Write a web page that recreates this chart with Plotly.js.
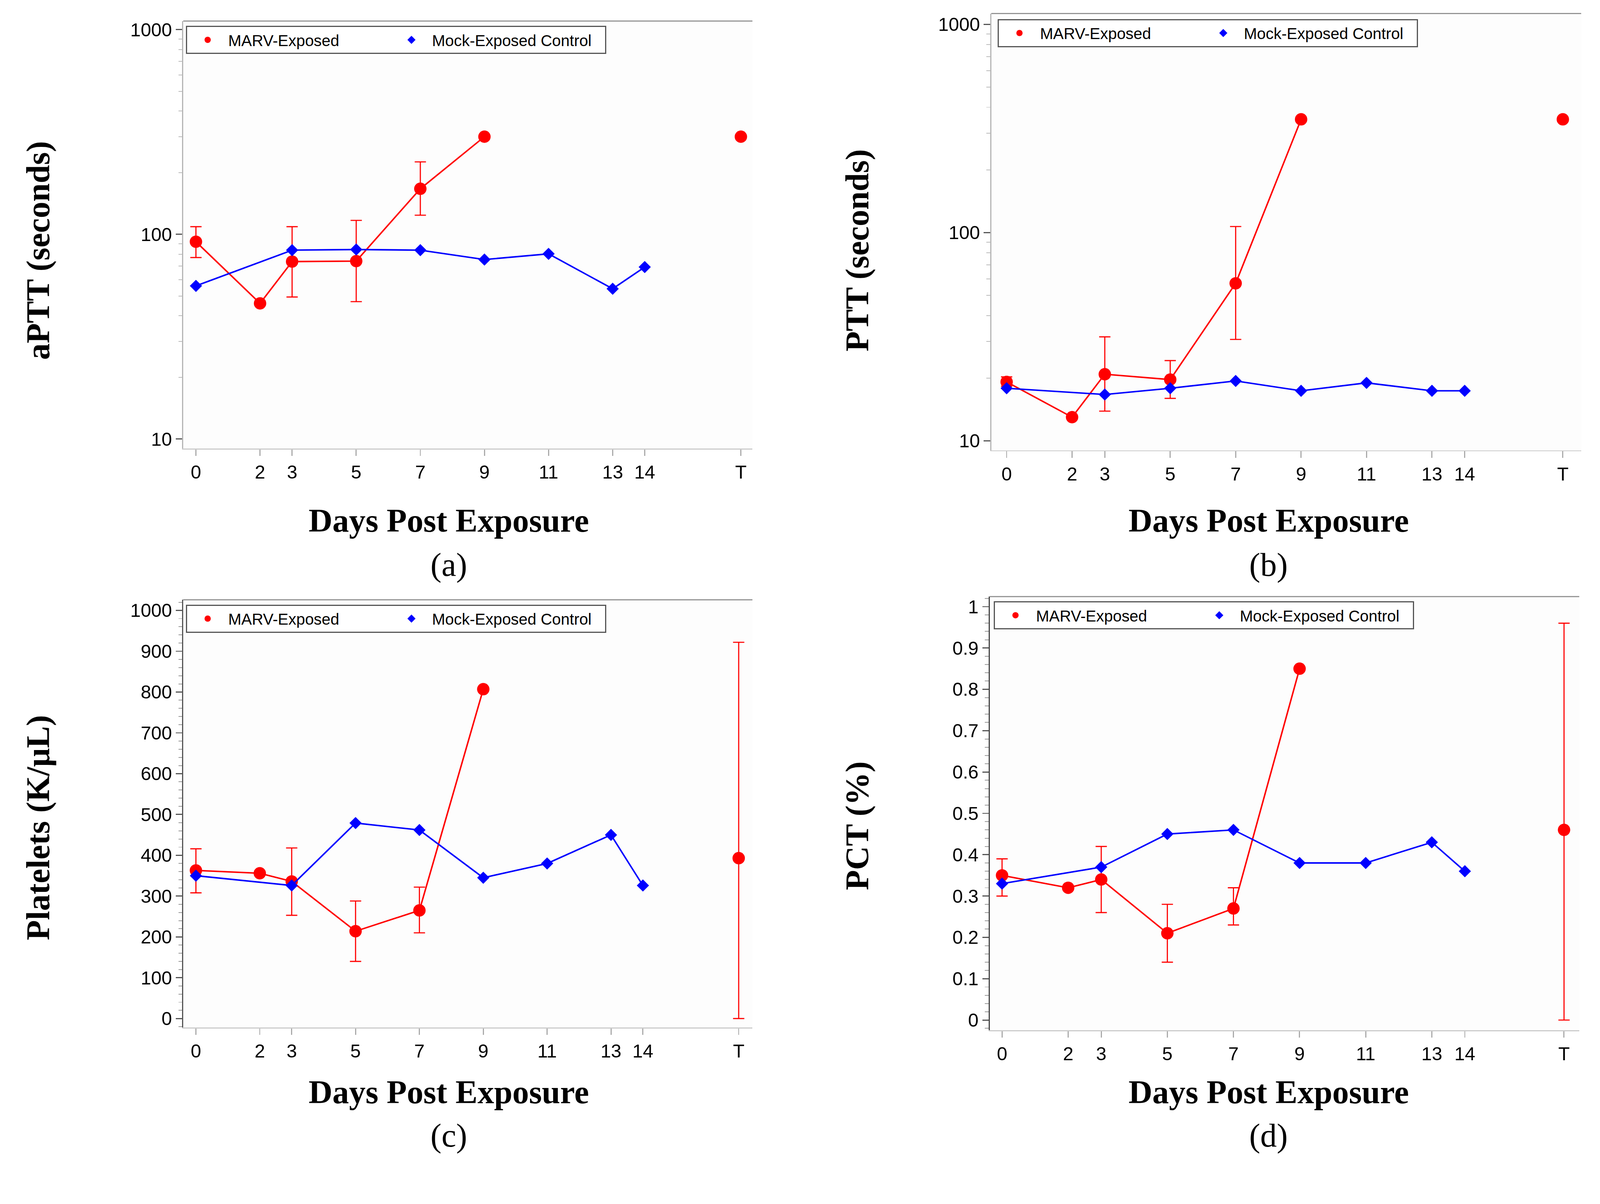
<!DOCTYPE html>
<html><head><meta charset="utf-8">
<script src="https://cdn.plot.ly/plotly-3.0.1.min.js"></script>
<style>html,body{margin:0;padding:0;background:#fff;overflow:hidden}</style>
</head><body><div id="chart"></div>
<script>
// ---- x axis categories ----
const tickLabels = ['0','2','3','5','7','9','11','13','14','T'];
const tickPositions = [0,2,3,5,7,9,11,13,14,17];
const marvDays = [0,2,3,5,7,9];
const mockDays = [0,3,5,7,9,11,13,14];
const terminalPos = 17;
const seriesNames = ['MARV-Exposed','Mock-Exposed Control'];

// ---- (a) aPTT (seconds) ----
const apttMarv = [92, 46, 73.6, 74, 167, 300];
const apttMarvUpper = [109, null, 109, 117, 226, null];
const apttMarvLower = [77, null, 49.4, 46.9, 124, null];
const apttMarvT = 300, apttMarvTUpper = null, apttMarvTLower = null;
const apttMock = [56, 83.7, 84.3, 83.7, 75.3, 80.3, 54.2, 69.2];

// ---- (b) PTT (seconds) ----
const pttMarv = [19.2, 13.0, 20.9, 19.7, 57.1, 350];
const pttMarvUpper = [20.3, null, 31.6, 24.3, 107, null];
const pttMarvLower = [18.3, null, 13.9, 16.0, 30.7, null];
const pttMarvT = 350, pttMarvTUpper = null, pttMarvTLower = null;
const pttMock = [17.9, 16.7, 17.9, 19.4, 17.4, 19.0, 17.4, 17.4];

// ---- (c) Platelets (K/uL) ----
const pltMarv = [363, 356, 336, 214, 265, 807];
const pltMarvUpper = [416, null, 418, 288, 322, null];
const pltMarvLower = [308, null, 253, 140, 210, null];
const pltMarvT = 393, pltMarvTUpper = 922, pltMarvTLower = 0;
const pltMock = [350, 326, 479, 462, 345, 380, 450, 326];

// ---- (d) PCT (%) ----
const pctMarv = [0.35, 0.32, 0.34, 0.21, 0.27, 0.85];
const pctMarvUpper = [0.39, null, 0.42, 0.28, 0.32, null];
const pctMarvLower = [0.30, null, 0.26, 0.14, 0.23, null];
const pctMarvT = 0.46, pctMarvTUpper = 0.96, pctMarvTLower = 0;
const pctMock = [0.33, 0.37, 0.45, 0.46, 0.38, 0.38, 0.43, 0.36];

const RED = '#ff0000', BLUE = '#0000ff';
const S = 1 / 1.04;              // global size factor
const px = v => v * S;

function errs(vals, up, lo) {
  return {
    plus: vals.map((v,i) => up[i] == null ? NaN : up[i] - v),
    minus: vals.map((v,i) => lo[i] == null ? NaN : v - lo[i])
  };
}

function panelTraces(sfx, legendId, marv, up, lo, tVal, tUp, tLo, mock) {
  const allX = marvDays.concat([terminalPos]);
  const allY = marv.concat([tVal]);
  const e = errs(allY, up.concat([tUp]), lo.concat([tLo]));
  const xa = 'x' + sfx, ya = 'y' + sfx;
  return [
    {x: marvDays, y: marv, xaxis: xa, yaxis: ya, mode: 'lines', line: {color: RED, width: px(4)},
     showlegend: false, hoverinfo: 'skip', legend: legendId},
    {x: allX, y: allY, xaxis: xa, yaxis: ya, mode: 'markers', name: seriesNames[0], legend: legendId,
     legendwidth: px(428),
     marker: {color: RED, size: px(33), symbol: 'circle'},
     error_y: {type: 'data', symmetric: false, array: e.plus, arrayminus: e.minus,
               color: RED, thickness: px(3), width: px(15)}},
    {x: mockDays, y: mock, xaxis: xa, yaxis: ya, mode: 'lines', line: {color: BLUE, width: px(4)},
     showlegend: false, hoverinfo: 'skip', legend: legendId},
    {x: mockDays, y: mock, xaxis: xa, yaxis: ya, mode: 'markers', name: seriesNames[1], legend: legendId,
     legendwidth: px(455),
     marker: {color: BLUE, size: px(25), symbol: 'diamond'}}
  ];
}

const data = [].concat(
  panelTraces('', 'legend', apttMarv, apttMarvUpper, apttMarvLower, apttMarvT, apttMarvTUpper, apttMarvTLower, apttMock),
  panelTraces('2', 'legend2', pttMarv, pttMarvUpper, pttMarvLower, pttMarvT, pttMarvTUpper, pttMarvTLower, pttMock),
  panelTraces('3', 'legend3', pltMarv, pltMarvUpper, pltMarvLower, pltMarvT, pltMarvTUpper, pltMarvTLower, pltMock),
  panelTraces('4', 'legend4', pctMarv, pctMarvUpper, pctMarvLower, pctMarvT, pctMarvTUpper, pctMarvTLower, pctMock)
);

const tickFont = {family: 'Liberation Sans, Arial, sans-serif', size: px(50), color: '#000'};
function xAxis(domain, range, anchor) {
  return {domain, range, anchor, tickmode: 'array', tickvals: tickPositions, ticktext: tickLabels,
    ticks: 'outside', ticklen: px(17), tickwidth: px(3), tickcolor: '#aaaaaa',
    showline: true, linecolor: '#cccccc', linewidth: px(3), showgrid: false, zeroline: false,
    tickfont: tickFont, fixedrange: true};
}
const logMinor = [];
for (let d = 10; d < 1000; d *= 10) for (let k = 2; k <= 9; k++) logMinor.push(k * d);
function yLog(domain, range, anchor, lineColor) {
  return {domain, range, anchor, type: 'log', tickmode: 'array', tickvals: [10,100,1000], ticktext: ['10','100','1000'],
    ticks: 'outside', ticklen: px(17), tickwidth: px(3), tickcolor: '#555555',
    minor: {tickmode: 'array', tickvals: logMinor, ticks: 'outside', ticklen: px(10), tickwidth: px(2), tickcolor: '#bbbbbb'},
    showline: true, linecolor: lineColor, linewidth: px(3), showgrid: false, zeroline: false,
    tickfont: tickFont, fixedrange: true};
}
function yLin(domain, range, anchor, dtick, minorDtick, lineColor) {
  return {domain, range, anchor, tick0: 0, dtick,
    ticks: 'outside', ticklen: px(17), tickwidth: px(3), tickcolor: '#555555',
    minor: {dtick: minorDtick, ticks: 'outside', ticklen: px(10), tickwidth: px(2), tickcolor: '#999999'},
    showline: true, linecolor: lineColor, linewidth: px(3), showgrid: false, zeroline: false,
    tickfont: tickFont, fixedrange: true};
}

function legendCfg(x, y) {
  return {x, y, xref: 'paper', yref: 'paper', xanchor: 'left', yanchor: 'top', orientation: 'h',
    bgcolor: '#ffffff', bordercolor: '#555555', borderwidth: px(3),
    font: {family: 'Liberation Sans, Arial, sans-serif', size: px(42), color: '#000'},
    itemwidth: px(99), entrywidthmode: 'pixels', traceorder: 'normal', itemclick: false};
}

const serif = 'Liberation Serif, Times New Roman, serif';
function ann(text, x, y, size, bold, angle) {
  return {text: bold ? '<b>' + text + '</b>' : text, x, y, xref: 'paper', yref: 'paper',
    xanchor: 'center', yanchor: 'middle', showarrow: false, textangle: angle || 0,
    font: {family: serif, size: px(size), color: '#000'}};
}

function topBorder(sfx) {
  return {type: 'line', xref: 'x' + sfx + ' domain', yref: 'y' + sfx + ' domain', x0: 0, x1: 1, y0: 1, y1: 1,
    line: {color: '#8c8c8c', width: px(3)}};
}

const layout = {
  width: px(4250), height: px(3082),
  margin: {l: 0, r: 0, t: 0, b: 0},
  paper_bgcolor: '#ffffff', plot_bgcolor: '#fdfdfd',
  showlegend: true,
  xaxis: xAxis([0.1148, 0.4713], [-0.395, 17.36], 'y'),
  yaxis: yLog([0.6126, 0.9818], [0.954, 3.042], 'x', '#b5b5b5'),
  xaxis2: xAxis([0.6209, 0.9904], [-0.47, 17.56], 'y2'),
  yaxis2: yLog([0.6110, 0.9883], [0.955, 3.052], 'x2', '#b5b5b5'),
  xaxis3: xAxis([0.1148, 0.4713], [-0.396, 17.43], 'y3'),
  yaxis3: yLin([0.1123, 0.4818], [-22, 1026], 'x3', 100, 20, '#555555'),
  xaxis4: xAxis([0.6200, 0.9892], [-0.37, 17.46], 'y4'),
  yaxis4: yLin([0.1100, 0.4846], [-0.0245, 1.0244], 'x4', 0.1, 0.02, '#444444'),
  legend: legendCfg(0.1165, 0.9776),
  legend2: legendCfg(0.6250, 0.9835),
  legend3: legendCfg(0.1165, 0.4776),
  legend4: legendCfg(0.6225, 0.4805),
  shapes: [topBorder(''), topBorder('2'), topBorder('3'), topBorder('4')],
  annotations: [
    ann('aPTT (seconds)', 0.0240, 0.7836, 88, true, -90),
    ann('PTT (seconds)', 0.5372, 0.7836, 88, true, -90),
    ann('Platelets (K/μL)', 0.0240, 0.2849, 88, true, -90),
    ann('PCT (%)', 0.5372, 0.2865, 88, true, -90),
    ann('Days Post Exposure', 0.2811, 0.5503, 88, true),
    ann('Days Post Exposure', 0.7946, 0.5503, 88, true),
    ann('Days Post Exposure', 0.2811, 0.0565, 88, true),
    ann('Days Post Exposure', 0.7946, 0.0565, 88, true),
    ann('(a)', 0.2811, 0.512, 88, false),
    ann('(b)', 0.7946, 0.512, 88, false),
    ann('(c)', 0.2811, 0.0188, 88, false),
    ann('(d)', 0.7946, 0.0188, 88, false)
  ]
};

Plotly.newPlot('chart', data, layout, {staticPlot: true, displayModeBar: false});
</script>
</body></html>
